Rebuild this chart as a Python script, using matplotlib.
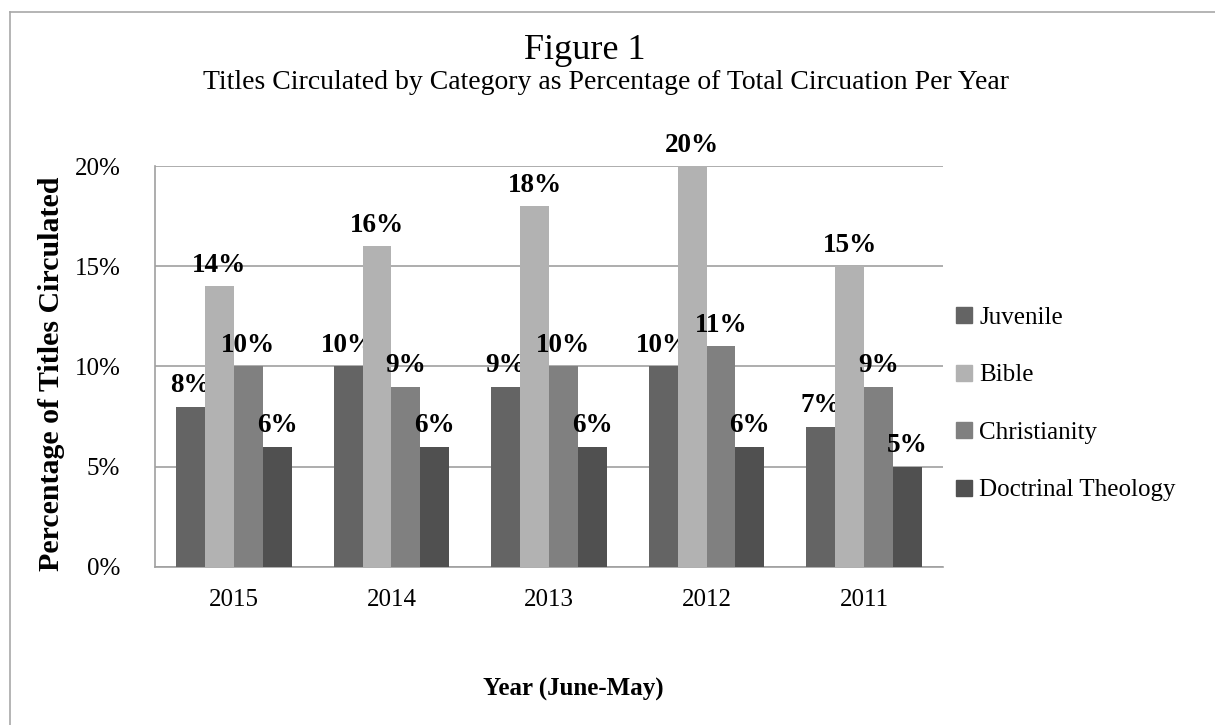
import matplotlib
matplotlib.use("Agg")
import matplotlib.pyplot as plt
import numpy as np
from matplotlib.lines import Line2D
from matplotlib.ticker import FuncFormatter, MultipleLocator

plt.rcParams["font.family"] = ["Liberation Serif", "DejaVu Serif"]

years = ["2015", "2014", "2013", "2012", "2011"]
series = ["Juvenile", "Bible", "Christianity", "Doctrinal Theology"]
juvenile = [8, 10, 9, 10, 7]
bible = [14, 16, 18, 20, 15]
christianity = [10, 9, 10, 11, 9]
doctrinal = [6, 6, 6, 6, 5]
colors = ["#646464", "#b2b2b2", "#808080", "#505050"]

fig = plt.figure(figsize=(12.15, 7.25), dpi=100)
fig.patch.set_facecolor("white")
ax = fig.add_axes([0.1276, 0.218, 0.6485, 0.553])

x = np.arange(len(years))
w = 0.183
for i, (vals, c) in enumerate(zip([juvenile, bible, christianity, doctrinal], colors)):
    pos = x + (i - 1.5) * w
    ax.bar(pos, vals, width=w, color=c, label=series[i], zorder=3)
    for xp, v in zip(pos, vals):
        ax.annotate(f"{v}%", (xp, v), xytext=(0, 6), textcoords="offset points",
                    ha="center", va="bottom", fontsize=19.5, fontweight="bold")

ax.set_xlim(-0.5, len(years) - 0.5)
ax.set_ylim(0, 20)
ax.yaxis.set_major_locator(MultipleLocator(5))
ax.yaxis.set_major_formatter(FuncFormatter(lambda v, p: f"{int(v)}%"))
ax.set_xticks(x)
ax.set_xticklabels(years)
ax.tick_params(axis="y", labelsize=18, length=0, pad=25)
ax.tick_params(axis="x", labelsize=18, length=0, pad=16)
ax.grid(axis="y", color="#a0a0a0", linewidth=1.2, zorder=0)
for s in ["top", "right"]:
    ax.spines[s].set_visible(False)
for s in ["left", "bottom"]:
    ax.spines[s].set_color("#a0a0a0")
    ax.spines[s].set_linewidth(1.2)

fig.text(0.042, 0.484, "Percentage of Titles Circulated", rotation=90, ha="center",
         va="center", fontsize=21.5, fontweight="bold")
fig.text(0.472, 0.049, "Year (June-May)", ha="center", va="center",
         fontsize=18, fontweight="bold")
fig.text(0.481, 0.930, "Figure 1", ha="center", va="center", fontsize=26)
fig.text(0.499, 0.886, "Titles Circulated by Category as Percentage of Total Circuation Per Year",
         ha="center", va="center", fontsize=20)

handles = [Line2D([0], [0], marker="s", linestyle="none", markersize=11,
                  markerfacecolor=c, markeredgecolor=c) for c in colors]
fig.legend(handles, series, loc="center left", bbox_to_anchor=(0.769, 0.443),
           frameon=False, fontsize=18, handlelength=0.6, handletextpad=0.3,
           labelspacing=1.4)

# outer chart border (left and top edges visible)
fig.add_artist(Line2D([0.0082, 0.0082], [0.0, 0.984], color="#a8a8a8", linewidth=1.2,
                      transform=fig.transFigure))
fig.add_artist(Line2D([0.0082, 1.0], [0.984, 0.984], color="#a8a8a8", linewidth=1.2,
                      transform=fig.transFigure))

fig.savefig("out.png", dpi=100, facecolor="white")
